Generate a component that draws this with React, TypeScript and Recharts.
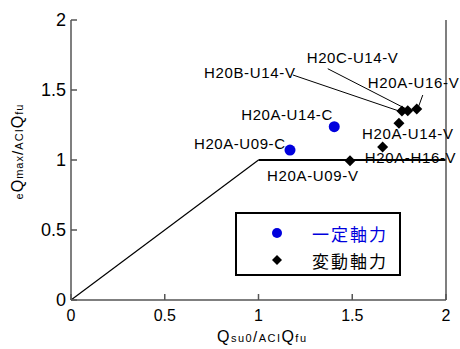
import React from 'react';
import { ScatterChart, Scatter, XAxis, YAxis, ReferenceLine } from 'recharts';

// ---- data ----
const constantNames = ['H20A-U09-C', 'H20A-U14-C'];
const constantX = [1.168, 1.404];
const constantY = [1.071, 1.238];

const variableNames = ['H20B-U14-V', 'H20C-U14-V', 'H20A-U16-V', 'H20A-U14-V', 'H20A-H16-V', 'H20A-U09-V'];
const variableX = [1.765, 1.796, 1.844, 1.749, 1.662, 1.488];
const variableY = [1.35, 1.352, 1.364, 1.262, 1.093, 0.995];

const limitX = [0, 1, 2];
const limitY = [0, 1, 1];

const xTicks = [0, 0.5, 1, 1.5, 2];
const yTicks = [0, 0.5, 1, 1.5, 2];
const legendLabels = ['一定軸力', '変動軸力'];

// ---- label layout (pixel offsets from the point) ----
type LabelLayout = { anchor: 'start' | 'end'; dx: number; dy: number; leader?: [number, number, number, number] };
const labelLayout: Record<string, LabelLayout> = {
  'H20A-U09-C': { anchor: 'end', dx: -5, dy: -7 },
  'H20A-U14-C': { anchor: 'end', dx: -2, dy: -12 },
  'H20B-U14-V': { anchor: 'end', dx: -107, dy: -39, leader: [-109, -36, -3, 0] },
  'H20C-U14-V': { anchor: 'start', dx: -101, dy: -53, leader: [-80, -42, -2, -2] },
  'H20A-U16-V': { anchor: 'start', dx: -49, dy: -27, leader: [6, -14, 2, -3] },
  'H20A-U14-V': { anchor: 'start', dx: -37, dy: 10 },
  'H20A-H16-V': { anchor: 'start', dx: -18, dy: 11 },
  'H20A-U09-V': { anchor: 'end', dx: 8, dy: 15 },
};

const constantData = constantNames.map((name, i) => ({ name, x: constantX[i], y: constantY[i] }));
const variableData = variableNames.map((name, i) => ({ name, x: variableX[i], y: variableY[i] }));

const BLUE = '#0000DD';
const SANS = '"Liberation Sans", Arial, sans-serif';
const CJK = '"Noto Sans CJK JP", sans-serif';
const AXIS = '#555';

const makeShape = (kind: 'circle' | 'diamond') => (props: any) => {
  const { cx, cy, payload } = props;
  if (cx == null || cy == null) return <g />;
  const L = labelLayout[payload.name];
  const s = 5.5;
  return (
    <g>
      {L && L.leader && (
        <line
          x1={cx + L.leader[0]}
          y1={cy + L.leader[1]}
          x2={cx + L.leader[2]}
          y2={cy + L.leader[3]}
          stroke="#000"
          strokeWidth={1}
        />
      )}
      {kind === 'circle' ? (
        <circle cx={cx} cy={cy} r={5.5} fill={BLUE} />
      ) : (
        <polygon points={`${cx},${cy - s} ${cx + s},${cy} ${cx},${cy + s} ${cx - s},${cy}`} fill="#000" />
      )}
      {L && (
        <text
          x={cx + L.dx}
          y={cy + L.dy}
          textAnchor={L.anchor}
          dominantBaseline="central"
          fontSize={15}
          fontFamily={SANS}
          textLength={91}
          lengthAdjust="spacing"
          fill="#000"
        >
          {payload.name}
        </text>
      )}
    </g>
  );
};

const XTitle = (props: any) => {
  const vb = props.viewBox || { x: 71, y: 300, width: 375, height: 49 };
  const cx = vb.x + vb.width / 2 + 3;
  return (
    <text x={cx} y={342} textAnchor="middle" fontFamily={SANS} fill="#000" textLength={89} lengthAdjust="spacing">
      <tspan fontSize={16}>Q</tspan>
      <tspan fontSize={11}>su0</tspan>
      <tspan fontSize={15}>/</tspan>
      <tspan fontSize={11}>ACI</tspan>
      <tspan fontSize={16}>Q</tspan>
      <tspan fontSize={11}>fu</tspan>
    </text>
  );
};

const YTitle = () => (
  <text
    x={0}
    y={0}
    transform="translate(23,152) rotate(-90)"
    textAnchor="middle"
    fontFamily={SANS}
    fill="#000"
    textLength={95}
    lengthAdjust="spacing"
  >
    <tspan fontSize={11}>e</tspan>
    <tspan fontSize={16}>Q</tspan>
    <tspan fontSize={11}>max</tspan>
    <tspan fontSize={15}>/</tspan>
    <tspan fontSize={11}>ACI</tspan>
    <tspan fontSize={16}>Q</tspan>
    <tspan fontSize={11}>fu</tspan>
  </text>
);

export default function App() {
  return (
    <div style={{ position: 'absolute', left: 0, top: 0, width: 460, height: 349, background: '#fff' }}>
      <ScatterChart width={460} height={349} margin={{ top: 20, right: 0, bottom: 0, left: 0 }}>
        <XAxis
          xAxisId="b"
          dataKey="x"
          type="number"
          domain={[0, 2]}
          ticks={xTicks}
          height={49}
          stroke={AXIS}
          strokeWidth={1.5}
          tickSize={-6}
          tickMargin={16}
          tick={{ fill: '#000', fontSize: 16, fontFamily: SANS }}
          tickFormatter={(v: number) => String(v)}
          label={<XTitle />}
        />
        <XAxis
          xAxisId="t"
          orientation="top"
          type="number"
          dataKey="x"
          domain={[0, 2]}
          ticks={xTicks}
          height={0}
          stroke="#222"
          tickSize={-6}
          tick={false}
        />
        <YAxis
          yAxisId="l"
          dataKey="y"
          type="number"
          domain={[0, 2]}
          ticks={yTicks}
          width={71}
          stroke={AXIS}
          strokeWidth={1.5}
          tickSize={-6}
          tickMargin={11}
          tick={{ fill: '#000', fontSize: 18, fontFamily: SANS }}
          tickFormatter={(v: number) => String(v)}
          label={<YTitle />}
        />
        <YAxis
          yAxisId="r"
          orientation="right"
          dataKey="y"
          type="number"
          domain={[0, 2]}
          ticks={yTicks}
          width={14}
          stroke={AXIS}
          strokeWidth={1.5}
          tickSize={-6}
          tick={false}
        />
        <ReferenceLine
          xAxisId="b"
          yAxisId="l"
          segment={[
            { x: limitX[0], y: limitY[0] },
            { x: limitX[1], y: limitY[1] },
          ]}
          stroke="#000"
          strokeWidth={1.2}
          ifOverflow="visible"
        />
        <ReferenceLine
          xAxisId="b"
          yAxisId="l"
          segment={[
            { x: limitX[1], y: limitY[1] },
            { x: limitX[2], y: limitY[2] },
          ]}
          stroke="#000"
          strokeWidth={2.2}
          ifOverflow="visible"
        />
        <Scatter
          name={legendLabels[0]}
          xAxisId="b"
          yAxisId="l"
          data={constantData}
          dataKey="y"
          shape={makeShape('circle')}
          isAnimationActive={false}
        />
        <Scatter
          name={legendLabels[1]}
          xAxisId="b"
          yAxisId="l"
          data={variableData}
          dataKey="y"
          shape={makeShape('diamond')}
          isAnimationActive={false}
        />
      </ScatterChart>
      <div
        style={{
          position: 'absolute',
          left: 235,
          top: 212,
          width: 166,
          height: 64,
          boxSizing: 'border-box',
          border: '2px solid #000',
          background: '#fff',
        }}
      >
        <svg width={166} height={64} style={{ position: 'absolute', left: -2, top: -2 }}>
          <circle cx={42} cy={21} r={5} fill={BLUE} />
          <polygon points="42,43 47,48 42,53 37,48" fill="#000" />
          <text x={77} y={21} dominantBaseline="central" fontSize={17} fontFamily={CJK} fill={BLUE} letterSpacing={2}>
            {legendLabels[0]}
          </text>
          <text x={77} y={48} dominantBaseline="central" fontSize={17} fontFamily={CJK} fill="#000" letterSpacing={2}>
            {legendLabels[1]}
          </text>
        </svg>
      </div>
    </div>
  );
}
